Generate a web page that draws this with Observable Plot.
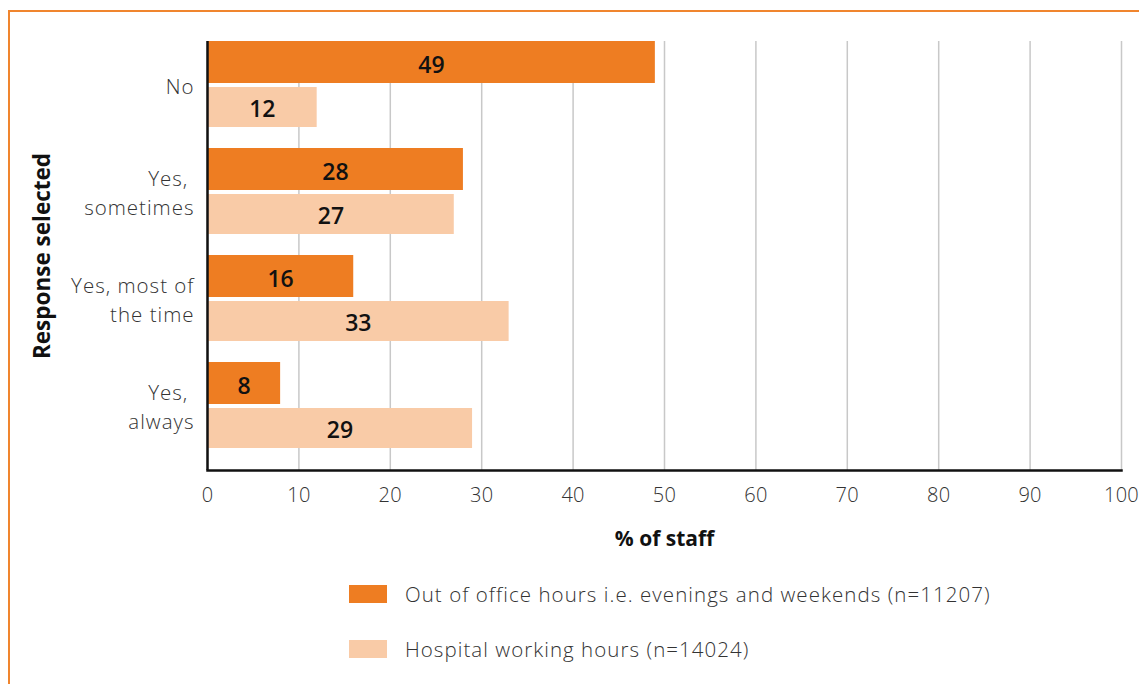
<!DOCTYPE html>
<html><head><meta charset="utf-8">
<script src="https://cdn.jsdelivr.net/npm/d3@7"></script>
<script src="https://cdn.jsdelivr.net/npm/@observablehq/plot@0.6"></script>
<style>
body{margin:0;background:#fff;font-family:"Open Sans",Lato,sans-serif;overflow:hidden;}
#frame{position:absolute;left:8px;top:10px;width:1300px;height:900px;border-top:2.5px solid #f0852e;border-left:2.5px solid #f0852e;}
#chart{position:absolute;left:0;top:0;}
#chart g[aria-label="y-axis tick label"] text{letter-spacing:1px;}
#chart g[aria-label="x-axis tick label"] text{letter-spacing:0.3px;}
.legend{position:absolute;left:349px;top:579px;font-size:20.5px;font-weight:300;color:#333;letter-spacing:1.05px;}
.row{display:flex;align-items:center;height:30px;margin-bottom:25px;white-space:nowrap;}
.sw{width:38px;height:18px;margin-right:18px;flex:none;}
</style></head>
<body>
<div id="frame"></div>
<div id="chart"></div>
<div class="legend" id="legend"></div>
<script>
const categories = ["No", "Yes, sometimes", "Yes, most of the time", "Yes, always"];
const categoryLabels = ["No", "Yes,\u00a0\nsometimes", "Yes, most of\nthe time", "Yes,\u00a0\nalways"];
const seriesNames = ["Out of office hours i.e. evenings and weekends (n=11207)", "Hospital working hours (n=14024)"];
const seriesColors = ["#ee7d22", "#f9cba7"];
const outOfOffice = [49, 28, 16, 8];
const hospitalHours = [12, 27, 33, 29];
const xTicks = [0, 10, 20, 30, 40, 50, 60, 70, 80, 90, 100];

const outData = categories.map((c, i) => ({category: c, value: outOfOffice[i]}));
const hospData = categories.map((c, i) => ({category: c, value: hospitalHours[i]}));
const labelOf = new Map(categories.map((c, i) => [c, categoryLabels[i]]));

const chart = Plot.plot({
  width: 1139,
  height: 565,
  marginTop: 41,
  marginBottom: 95,
  marginLeft: 207,
  marginRight: 18,
  style: {fontFamily: "'Open Sans', Lato, sans-serif", color: "#333", background: "transparent", overflow: "visible"},
  x: {domain: [0, 100]},
  y: {domain: categories, paddingInner: 0.2, paddingOuter: 0.1, align: 0},
  marks: [
    Plot.gridX(xTicks, {stroke: "#c8c8c8", strokeOpacity: 1, strokeWidth: 1.5}),
    Plot.barX(outData, {x: "value", y: "category", fill: seriesColors[0], insetBottom: 44}),
    Plot.barX(hospData, {x: "value", y: "category", fill: seriesColors[1], insetTop: 46}),
    Plot.text(outData, {x: d => d.value / 2, y: "category", text: d => String(d.value), dy: -19, fontSize: 23, fontWeight: 600, fill: "#111"}),
    Plot.text(hospData, {x: d => d.value / 2, y: "category", text: d => String(d.value), dy: 25, fontSize: 23, fontWeight: 600, fill: "#111"}),
    Plot.ruleX([0], {stroke: "#111", strokeWidth: 2.5}),
    Plot.frame({anchor: "bottom", stroke: "#111", strokeWidth: 2.5}),
    Plot.axisY({tickSize: 0, tickPadding: 13, fontSize: 20.5, fontWeight: 300, lineHeight: 1.4, tickFormat: d => labelOf.get(d), label: null}),
    Plot.axisX(xTicks, {tickSize: 0, tickPadding: 17, fontSize: 20, fontWeight: 300, label: null}),
    Plot.text(["Response selected"], {frameAnchor: "left", textAnchor: "middle", rotate: -90, dx: -165, fontSize: 22.5, fontWeight: "bold", fill: "#111"}),
    Plot.text(["% of staff"], {frameAnchor: "bottom", dy: 75, fontSize: 21, fontWeight: "bold", fill: "#111"})
  ]
});
document.getElementById("chart").appendChild(chart);

const legend = document.getElementById("legend");
seriesNames.forEach((name, i) => {
  const row = document.createElement("div");
  row.className = "row";
  const sw = document.createElement("div");
  sw.className = "sw";
  sw.style.background = seriesColors[i];
  const t = document.createElement("span");
  t.textContent = name;
  row.appendChild(sw);
  row.appendChild(t);
  legend.appendChild(row);
});
</script>
</body></html>
